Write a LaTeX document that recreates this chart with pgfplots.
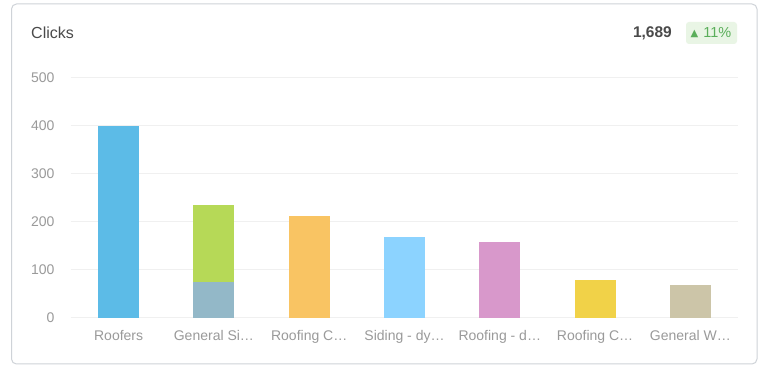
\documentclass[border=0pt]{standalone}
\usepackage{pgfplots}
\pgfplotsset{compat=1.18}
\usepackage{fontspec}
\setmainfont{Liberation Sans}
\newfontfamily\symfont{DejaVu Sans}
\definecolor{cardborder}{HTML}{CFD3D8}
\definecolor{gridc}{HTML}{F0F0F0}
\definecolor{tickc}{HTML}{9A9A9A}
\definecolor{titlec}{HTML}{4A4A4A}
\definecolor{badgebg}{HTML}{E9F5E5}
\definecolor{badgefg}{HTML}{5AAE5A}
\definecolor{cA}{HTML}{5CBBE7}
\definecolor{cBlow}{HTML}{93B8C8}
\definecolor{cBup}{HTML}{B6D957}
\definecolor{cC}{HTML}{F9C463}
\definecolor{cD}{HTML}{8CD3FF}
\definecolor{cE}{HTML}{D898CB}
\definecolor{cF}{HTML}{F1D248}
\definecolor{cG}{HTML}{CCC5A8}
\begin{document}
\begin{tikzpicture}[x=1pt,y=1pt]
\path[fill=white] (0,0) rectangle (761,367);
\draw[cardborder, line width=1pt, rounded corners=5pt, fill=white] (11.5,3) rectangle (757,363);
\node[anchor=west, font=\fontsize{16}{19}\selectfont, text=titlec, inner sep=0pt] at (31,334) {Clicks};
\node[anchor=east, font=\fontsize{15.5}{18}\selectfont\bfseries, text=titlec, inner sep=0pt] at (672,334) {1,689};
\fill[badgebg, rounded corners=3pt] (686,323) rectangle (737,345);
\node[anchor=west, text=badgefg, inner sep=0pt] at (690.5,334) {\raisebox{1.5pt}{\symfont\fontsize{10}{12}\selectfont ▲}\hspace{5pt}{\fontsize{14.5}{17}\selectfont 11\%}};
\begin{axis}[
  at={(71pt,49pt)}, anchor=south west,
  scale only axis, width=667pt, height=240pt,
  xmin=-0.5, xmax=6.5, ymin=0, ymax=500,
  axis line style={draw=none},
  ytick={0,100,200,300,400,500},
  xtick={0,1,2,3,4,5,6},
  xticklabels={Roofers, General Si…, Roofing C…, Siding - dy…, Roofing - d…, Roofing C…, General W…},
  major tick length=0pt,
  ymajorgrids, grid style={gridc, line width=1pt},
  tick label style={text=tickc, font=\fontsize{14}{16}\selectfont},
  /pgf/number format/assume math mode=true,
  yticklabel style={xshift=-13pt},
  xticklabel style={yshift=-9pt},
  ybar, bar width=41pt,
  every axis plot/.append style={bar shift=0pt, draw=none},
]
\addplot[fill=cA] coordinates {(0,400)};
\addplot[fill=cBup] coordinates {(1,235)};
\addplot[fill=cBlow] coordinates {(1,75)};
\addplot[fill=cC] coordinates {(2,212)};
\addplot[fill=cD] coordinates {(3,169)};
\addplot[fill=cE] coordinates {(4,158)};
\addplot[fill=cF] coordinates {(5,79)};
\addplot[fill=cG] coordinates {(6,69)};
\end{axis}
\end{tikzpicture}
\end{document}
